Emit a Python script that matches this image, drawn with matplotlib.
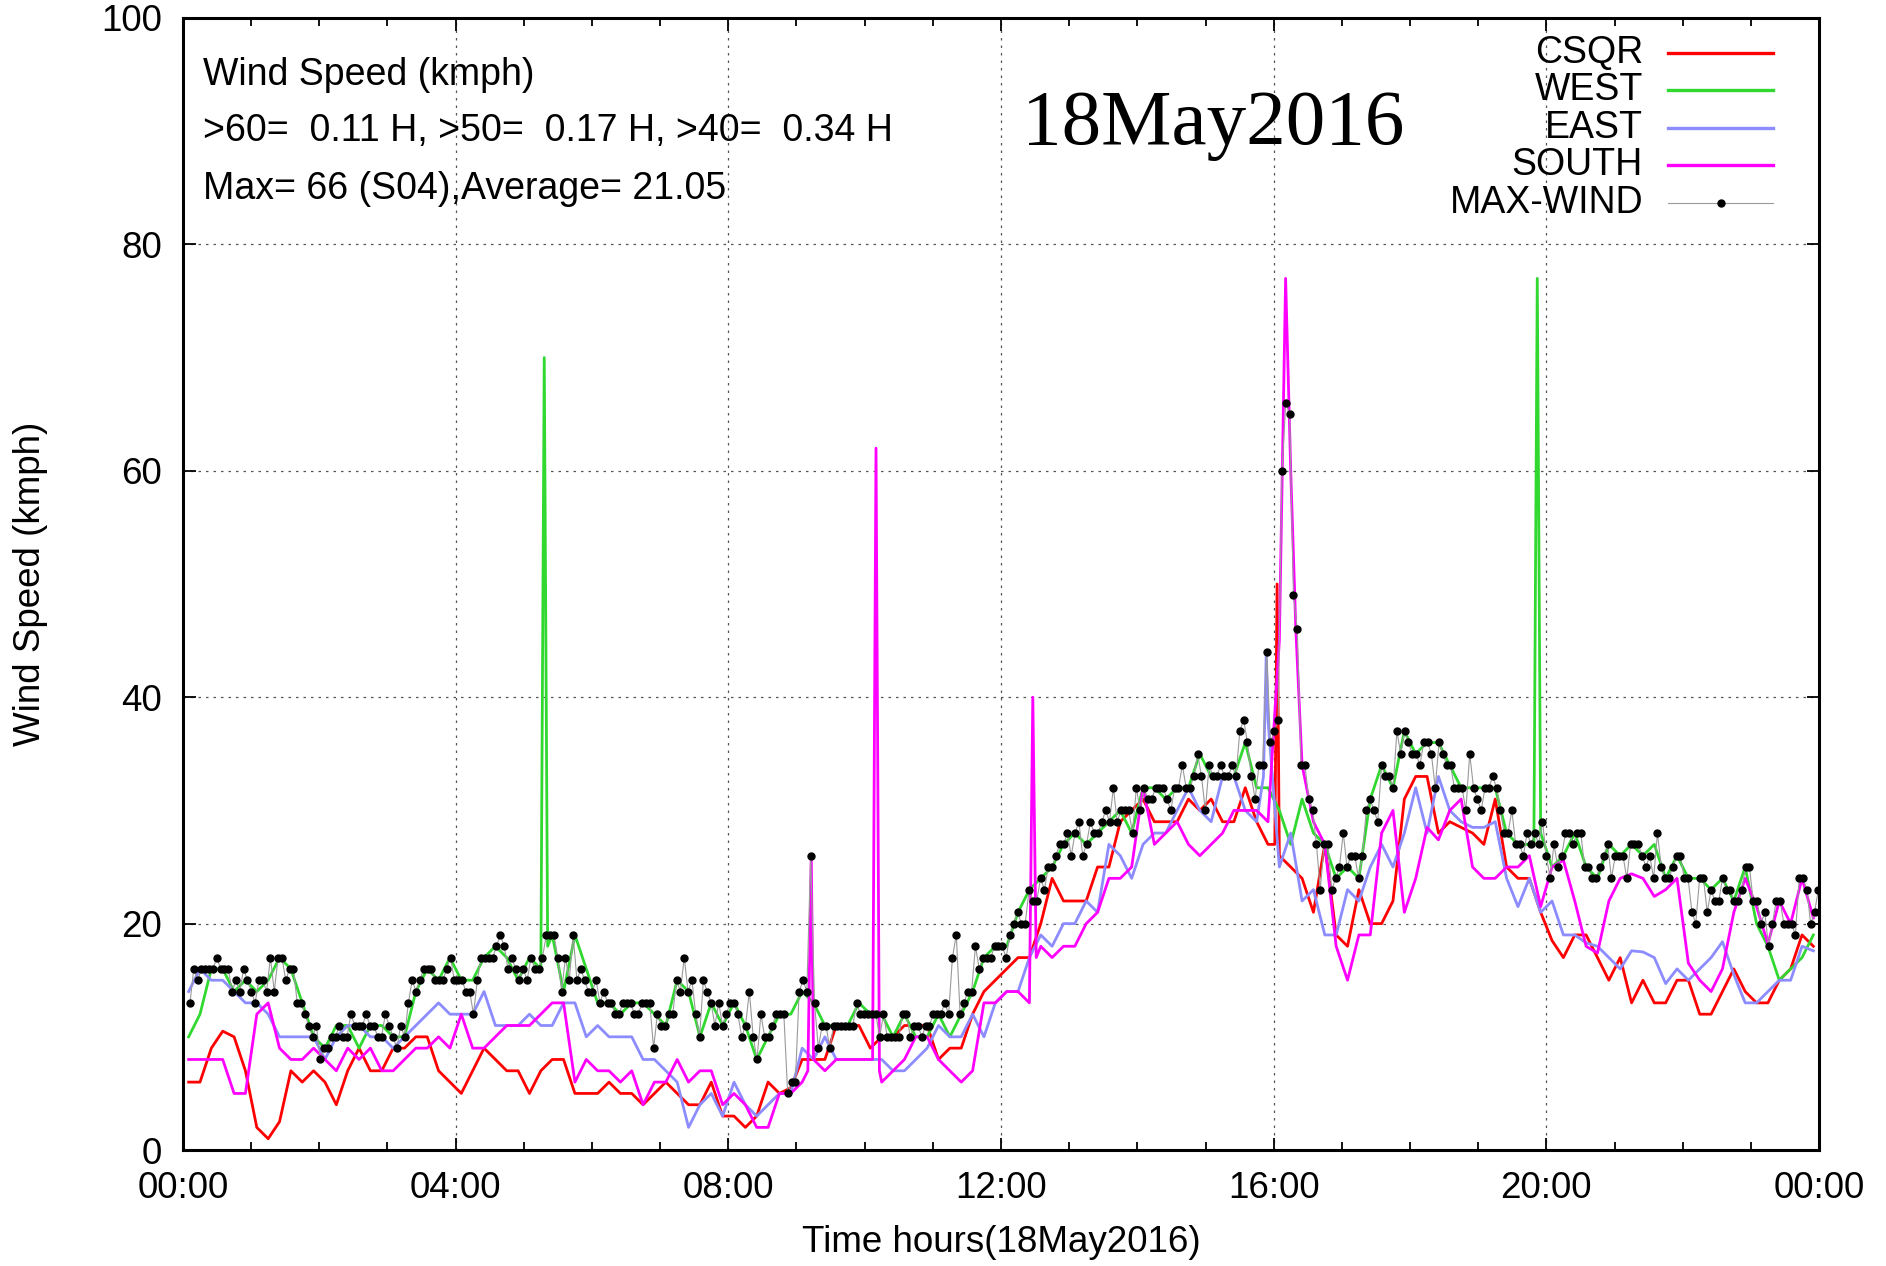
"""
Wind speed at the four stations and the running maximum, 18 May 2016.

One day of readings (kmph) for CSQR, WEST, EAST and SOUTH, read on a
10-minute grid, plus the MAX-WIND series that is drawn as black dots on a
thin grey line. Spikes narrower than the grid are kept as extra points.
"""

import matplotlib
matplotlib.use("Agg")
import matplotlib.pyplot as plt
import numpy as np

# --- data -----------------------------------------------------------------
DAY = "18May2016"
GRID_MIN = list(range(5, 1440, 10))          # minutes since 00:00

CSQR = [6, 6, 9, 10.5, 10, 7, 2, 1, 2.5, 7, 6, 7, 6, 4, 7, 9, 7, 7, 9, 9,
        10, 10, 7, 6, 5, 7, 9, 8, 7, 7, 5, 7, 8, 8, 5, 5, 5,
        6, 5, 5, 4, 5, 6, 5, 4, 4, 6, 3, 3, 2, 3, 6, 5, 5.5, 8, 8, 8,
        11, 11, 11, 9, 10, 10, 11, 11, 11, 8, 9, 9, 12, 14, 15, 16,
        17, 17, 20, 24, 22, 22, 22, 25, 25, 29, 30, 31, 29, 29, 29, 31, 30, 31,
        29, 29, 32, 29, 27, 26, 25, 24, 21, 27, 19, 18, 23, 20, 20, 22, 31, 33,
        33, 28, 29, 28.5, 28, 27, 31, 25, 24, 24, 21, 18.5, 17, 19, 19, 17, 15,
        17, 13, 15, 13, 13, 15, 15, 12, 12, 14, 16, 14, 13, 13, 15, 16, 19, 18]

WEST = [10, 12, 16, 16, 14, 15, 14, 15, 17, 16, 13, 10, 9, 11, 11, 9, 11, 11,
        10, 10, 14, 16, 15, 17, 15, 15, 17, 18, 17, 15, 17, 16, 19, 14, 19, 16, 13,
        13, 12, 13, 13, 12, 11, 15, 14, 10, 13, 11, 13, 11, 8, 10, 12, 12, 14,
        13, 11, 11, 11, 13, 12, 12, 10, 12, 10, 10, 12, 10, 12, 14, 17, 18, 18,
        21, 23, 24, 25, 27, 28, 27, 28, 29, 30, 28, 32, 32, 31, 32, 32, 35, 33,
        33, 33, 36, 32, 32, 30, 27, 31, 28, 27, 24, 25, 24, 31, 34, 32, 37, 35,
        36, 36, 34, 32, 32, 32, 32, 28, 27, 27, 28, 25, 26, 28, 25, 24, 27, 26,
        27, 26, 27, 24, 26, 24, 24, 23, 24, 22, 25, 20, 18, 15, 16, 17, 19]

EAST = [14, 16, 15, 15, 14, 13, 13, 12, 10, 10, 10, 10, 8, 10, 11, 11, 10, 10,
        9, 10, 11, 12, 13, 12, 12, 12, 14, 11, 11, 11, 12, 11, 11, 13, 13, 10, 11,
        10, 10, 10, 8, 8, 7, 6, 2, 4, 5, 3, 6, 4, 3, 4, 5, 5, 9, 8, 10,
        8, 8, 8, 8, 8, 7, 7, 8, 9, 11, 10, 10, 12, 10, 13, 14,
        14, 17, 19, 18, 20, 20, 22, 21, 27, 26, 24, 27, 28, 28, 30, 32, 30, 29,
        33, 33, 30, 29, 38, 25, 28, 22, 23, 19, 19, 23, 22, 25, 27, 25, 28, 32,
        28, 33, 30, 29, 28.5, 28.5, 29, 24, 21.5, 24, 21, 22, 19, 19, 18.3, 18,
        17, 16, 17.6, 17.5, 17, 14.7, 16, 15, 16, 17, 18.4, 15.5, 13, 13, 14,
        15, 15, 18, 17.6]

SOUTH = [8, 8, 8, 8, 5, 5, 12, 13, 9, 8, 8, 9, 8, 7, 9, 8, 9, 7, 7, 8,
         9, 9, 10, 9, 12, 9, 9, 10, 11, 11, 11, 12, 13, 13, 6, 8, 7,
         7, 6, 7, 4, 6, 6, 8, 6, 7, 7, 4, 5, 4, 2, 2, 5, 5, 6, 8, 7,
         8, 8, 8, 8, 6, 7, 8, 10, 10, 8, 7, 6, 7, 13, 13, 14,
         14, 13, 18, 17, 18, 18, 20, 21, 24, 24, 25, 32, 27, 28, 29, 27, 26, 27,
         28, 30, 30, 30, 29, 45, 60, 34, 29, 27, 18, 15, 19, 19, 28, 30, 21, 24,
         28.5, 27.4, 30, 31, 25, 24, 24, 25, 25, 26, 21.5, 25, 25.6, 22, 18,
         17.4, 22, 24, 24.4, 24, 22.4, 23, 24, 16.5, 15, 14, 16, 21, 24, 21.5,
         18.2, 22, 20, 24, 20.5]

# short gusts between grid points: (minute, kmph)
CSQR_SPIKES = [(961, 27), (963, 50)]
WEST_SPIKES = [(318, 70), (321, 18), (1189, 27), (1192, 77)]
EAST_SPIKES = [(951, 33), (953.5, 44)]
SOUTH_SPIKES = [(550, 7), (553, 26), (607, 8), (610, 62), (613, 7),
                (748, 40), (751, 17), (970.5, 77), (979.5, 46)]

# running maximum, evenly spaced from MAX_START_H to MAX_END_H
MAX_START_H, MAX_END_H = 0.103, 23.99
MAX_WIND = [
    13, 16, 15, 16, 16, 16, 16, 17, 16, 16, 16, 14, 15, 14, 16, 15, 14, 13, 15, 15,
    14, 17, 14, 17, 17, 15, 16, 16, 13, 13, 12, 11, 10, 11, 8, 9, 9, 10, 10, 11,
    10, 10, 12, 11, 11, 11, 12, 11, 11, 10, 10, 12, 11, 10, 9, 11, 10, 13, 15, 14,
    15, 16, 16, 16, 15, 15, 15, 16, 17, 15, 15, 15, 14, 14, 12, 15, 17, 17, 17, 17,
    18, 19, 18, 16, 17, 16, 15, 16, 15, 17, 16, 16, 17, 19, 19, 19, 17, 14, 17, 15,
    19, 15, 16, 15, 14, 14, 15, 13,
    14, 13, 13, 12, 12, 13, 13, 13, 12, 12, 13, 13, 13, 9, 12, 11, 11, 12, 12, 15,
    14, 17, 14, 15, 12, 10, 15, 14, 13, 11, 13, 11, 12, 13, 13, 12, 10, 11, 14, 10,
    8, 12, 10, 10, 11, 12, 12, 12, 5, 6, 6, 14, 15, 14, 26, 13, 9, 11, 11, 9,
    11, 11, 11, 11, 11, 11, 13, 12, 12, 12, 12, 12, 10, 12, 10, 10, 10, 10, 12, 12,
    10, 11, 11, 10, 11, 11, 12, 12, 12, 13, 12, 17, 19, 12, 13, 14, 14, 18, 16, 17,
    17, 17, 18, 18, 18, 17, 19,
    20, 21, 20, 20, 23, 22, 22, 24, 23, 25, 25, 26, 27, 27, 28, 26, 28, 29, 26, 27,
    29, 28, 28, 29, 30, 29, 32, 29, 30, 30, 30, 28, 32, 30, 32, 31, 31, 32, 32, 32,
    31, 30, 32, 32, 34, 32, 32, 33, 35, 33, 30, 34, 33, 33, 34, 33, 33, 34, 33, 37,
    38, 36, 33, 31, 34, 34, 44, 36, 37, 38, 60, 66, 65, 49, 46, 34, 34, 31, 30, 27,
    23, 27, 27, 23, 24, 25, 28, 25, 26, 26, 24, 26, 30, 31, 30, 29, 34, 33, 33, 32,
    37, 35, 37, 36, 35, 35, 34,
    36, 36, 35, 32, 36, 35, 34, 34, 32, 32, 32, 30, 35, 32, 31, 30, 32, 32, 33, 32,
    30, 28, 28, 30, 27, 27, 26, 28, 27, 28, 27, 29, 26, 24, 27, 25, 26, 28, 28, 27,
    28, 28, 25, 25, 24, 24, 25, 26, 27, 24, 26, 26, 26, 24, 27, 27, 27, 26, 25, 26,
    24, 28, 25, 24, 24, 25, 26, 26, 24, 24, 21, 20, 24, 24, 21, 23, 22, 22, 24, 23,
    23, 22, 22, 23, 25, 25, 22, 22, 20, 21, 18, 20, 22, 22, 20, 20, 20, 19, 24, 24,
    23, 20, 21, 23]

NOTES = ["Wind Speed (kmph)",
         ">60=  0.11 H, >50=  0.17 H, >40=  0.34 H",
         "Max= 66 (S04),Average= 21.05"]
XTICK_HOURS = [0, 4, 8, 12, 16, 20, 24]
XTICK_LABELS = ["00:00", "04:00", "08:00", "12:00", "16:00", "20:00", "00:00"]

STATIONS = [("CSQR", CSQR, CSQR_SPIKES, "#ff0000"),
            ("WEST", WEST, WEST_SPIKES, "#30d830"),
            ("EAST", EAST, EAST_SPIKES, "#8c8cff"),
            ("SOUTH", SOUTH, SOUTH_SPIKES, "#ff00ff")]

FONT = "Liberation Sans"
FS = 26.5


def merged(values, spikes):
    """Grid readings plus the extra gust points, sorted by time (hours)."""
    t = np.array(GRID_MIN + [m for m, _ in spikes], dtype=float)
    v = np.array(values + [s for _, s in spikes], dtype=float)
    order = np.argsort(t, kind="stable")
    return t[order] / 60.0, v[order]


plt.rcParams["font.family"] = [FONT, "DejaVu Sans"]

fig = plt.figure(figsize=(18.86, 12.66), dpi=100)
ax = fig.add_axes([0.097, 0.0916, 0.8675, 0.8942])

legend_rows = []
for name, values, spikes, color in STATIONS:
    t, v = merged(values, spikes)
    ax.plot(t, v, color=color, lw=2.0)
    legend_rows.append((name, dict(color=color, lw=2.4)))

t_max = np.linspace(MAX_START_H, MAX_END_H, len(MAX_WIND))
ax.plot(t_max, MAX_WIND, color="#9a9a9a", lw=0.8,
        marker="o", ms=5, mfc="black", mec="black")
legend_rows.append(("MAX-WIND", dict(color="#9a9a9a", lw=0.8)))

# --- axes -----------------------------------------------------------------
ax.set_xlim(0, 24)
ax.set_ylim(0, 100)
ax.set_xticks(XTICK_HOURS)
ax.set_xticklabels(XTICK_LABELS)
ax.set_xticks(range(0, 25), minor=True)
ax.set_yticks(range(0, 101, 20))
ax.tick_params(which="both", direction="in", top=True, right=True,
               labelsize=FS, width=1.3, pad=15)
ax.tick_params(which="major", length=9)
ax.tick_params(which="minor", length=5.5)
for s in ax.spines.values():
    s.set_linewidth(2.2)
ax.grid(True, which="major", color="#555555", lw=0.9, linestyle=(0, (2, 4)))

ax.set_xlabel(f"Time hours({DAY})", fontsize=FS)
ax.xaxis.set_label_coords(0.5, -0.066)
ax.set_ylabel("Wind Speed (kmph)", fontsize=FS)
ax.yaxis.set_label_coords(-0.0825, 0.5)

# --- notes, date and key ---------------------------------------------------
for y, line in zip([0.9496, 0.900, 0.849], NOTES):
    ax.text(0.0122, y, line, transform=ax.transAxes, fontsize=27, va="center")

ax.text(0.513, 0.8887, DAY, transform=ax.transAxes, fontsize=57,
        family="Liberation Serif", va="baseline")

for i, (name, style) in enumerate(legend_rows):
    y = 0.969 - 0.033 * i
    ax.text(0.8924, y, name, transform=ax.transAxes, fontsize=27,
            ha="right", va="center")
    ax.plot([0.9077, 0.9719], [y, y], transform=ax.transAxes, **style)
    if name == "MAX-WIND":
        ax.plot([0.9398], [y], transform=ax.transAxes, marker="o", ms=5,
                color="black")

fig.savefig("out.png", dpi=100)
